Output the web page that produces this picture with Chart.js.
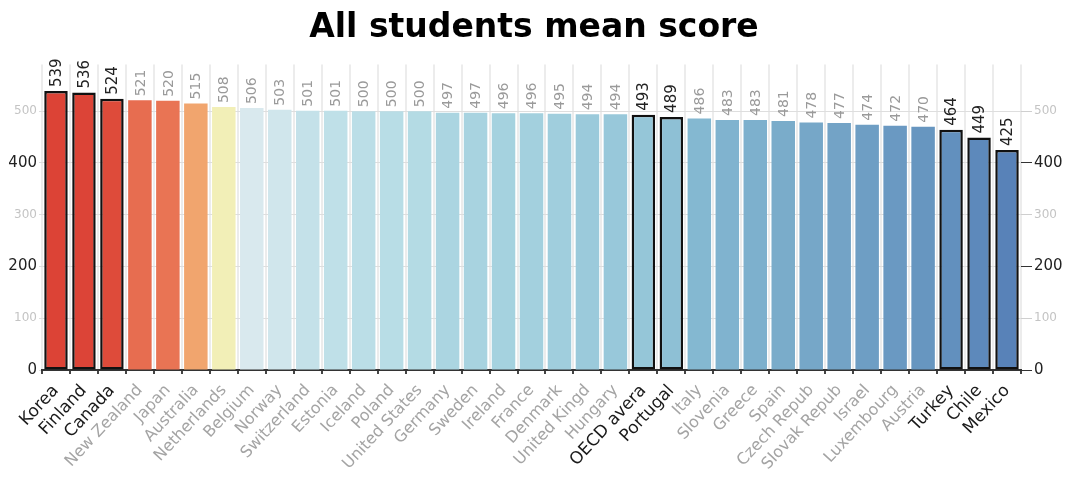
<!DOCTYPE html>
<html>
<head>
<meta charset="utf-8">
<script src="https://cdn.jsdelivr.net/npm/chart.js@4/dist/chart.umd.min.js"></script>
<style>
  html, body { margin: 0; padding: 0; background: #fff; }
  #wrap { width: 1068px; height: 482px; position: relative; }
</style>
</head>
<body>
<div id="wrap"><canvas id="c"></canvas></div>
<script>
// Country names as shown on the axis
const categories = [
  'Korea', 'Finland', 'Canada', 'New Zealand', 'Japan', 'Australia', 'Netherlands',
  'Belgium', 'Norway', 'Switzerland', 'Estonia', 'Iceland', 'Poland', 'United States',
  'Germany', 'Sweden', 'Ireland', 'France', 'Denmark', 'United Kingd', 'Hungary',
  'OECD avera', 'Portugal', 'Italy', 'Slovenia', 'Greece', 'Spain', 'Czech Repub',
  'Slovak Repub', 'Israel', 'Luxembourg', 'Austria', 'Turkey', 'Chile', 'Mexico'
];

// Mean score of all students
const scores = [
  539, 536, 524, 521, 520, 515, 508,
  506, 503, 501, 501, 500, 500, 500,
  497, 497, 496, 496, 495, 494, 494,
  493, 489, 486, 483, 483, 481, 478,
  477, 474, 472, 470, 464, 449, 425
];

// Countries drawn with an outline and dark labels
const highlighted = ['Korea', 'Finland', 'Canada', 'OECD avera', 'Portugal', 'Turkey', 'Chile', 'Mexico'];

// Fill colour of each bar (red -> yellow -> blue)
const barColors = [
  '#dc4336', '#dc4437', '#de4b3a', '#e76d50', '#e97454', '#f1a56e', '#f2efb7',
  '#d9e9ee', '#d0e6ec', '#c4e1e9', '#bfe0e8', '#bbdee7', '#b8dde6', '#b4dbe4',
  '#abd5e1', '#a8d3e0', '#a5d2df', '#a3d0de', '#a0cedd', '#9bcadb', '#98c8da',
  '#95c6d8', '#8ec0d5', '#84b8d1', '#80b3cf', '#7db0cd', '#7aacca', '#76a7c8',
  '#73a3c6', '#6e9ec4', '#6a99c2', '#6796c0', '#6290be', '#5d89bb', '#5882b8'
];

// Value axis ticks
const yTicks = [0, 100, 200, 300, 400, 500];
const yMax = 590;

const FONT = '"DejaVu Sans", Verdana, sans-serif';
const isHi = i => highlighted.includes(categories[i]);

// Score written vertically above each bar
const valueLabels = {
  id: 'valueLabels',
  afterDatasetsDraw(chart) {
    const ctx = chart.ctx;
    const meta = chart.getDatasetMeta(0);
    meta.data.forEach((bar, i) => {
      const hi = isHi(i);
      ctx.save();
      ctx.translate(bar.x + 1, bar.y - 4);
      ctx.rotate(-Math.PI / 2);
      ctx.font = (hi ? '15px ' : '14px ') + FONT;
      ctx.fillStyle = hi ? '#222' : '#9a9a9a';
      ctx.textAlign = 'left';
      ctx.textBaseline = 'middle';
      ctx.fillText(String(scores[i]), 0, 0);
      ctx.restore();
    });
  }
};

const yTickColor = c => (c.tick && c.tick.value % 200 === 0) ? '#222' : '#c4c4c4';
const yTickFont = c => (c.tick && c.tick.value % 200 === 0)
  ? { size: 15, family: FONT }
  : { size: 12, family: FONT };
const keepTicks = axis => { axis.ticks = yTicks.map(v => ({ value: v })); };

new Chart(document.getElementById('c'), {
  type: 'bar',
  data: {
    labels: categories,
    datasets: [{
      data: scores,
      backgroundColor: barColors,
      borderColor: categories.map((_, i) => isHi(i) ? '#111' : 'rgba(0,0,0,0)'),
      borderWidth: categories.map((_, i) => isHi(i) ? 2.5 : 0),
      borderSkipped: false,
      barPercentage: 0.84,
      categoryPercentage: 1.0,
      yAxisID: 'y'
    }]
  },
  options: {
    responsive: true,
    maintainAspectRatio: false,
    animation: false,
    layout: { padding: 0 },
    plugins: {
      legend: { display: false },
      tooltip: { enabled: false },
      title: {
        display: true,
        text: 'All students mean score',
        color: '#000',
        font: { size: 33, weight: 'bold', family: FONT, lineHeight: 1.2 },
        padding: { top: 9, bottom: 16 }
      }
    },
    scales: {
      x: {
        offset: true,
        grid: {
          offset: true,
          color: '#ececec',
          lineWidth: 2,
          tickColor: '#444',
          tickLength: 4
        },
        border: { color: '#333', width: 2 },
        ticks: {
          autoSkip: false,
          minRotation: 47,
          maxRotation: 47,
          padding: 7,
          color: c => isHi(c.index) ? '#1a1a1a' : '#a4a4a4',
          font: c => isHi(c.index)
            ? { size: 17, family: FONT }
            : { size: 16, family: FONT }
        },
        afterFit: axis => { axis.height = 112; }
      },
      y: {
        position: 'left',
        min: 0,
        max: yMax,
        afterBuildTicks: keepTicks,
        grid: { color: '#dedede', lineWidth: 1, tickLength: 3, tickColor: '#dedede' },
        border: { display: false },
        ticks: { color: yTickColor, font: yTickFont, padding: 2 },
        afterFit: axis => { axis.width = 42; }
      },
      y2: {
        position: 'right',
        min: 0,
        max: yMax,
        afterBuildTicks: keepTicks,
        grid: {
          drawOnChartArea: false,
          tickLength: 11,
          tickColor: c => (c.tick && c.tick.value % 200 === 0) ? '#333' : '#cfcfcf'
        },
        border: { display: false },
        ticks: { color: yTickColor, font: yTickFont, padding: 2 },
        afterFit: axis => { axis.width = 47; }
      }
    }
  },
  plugins: [valueLabels]
});
</script>
</body>
</html>
